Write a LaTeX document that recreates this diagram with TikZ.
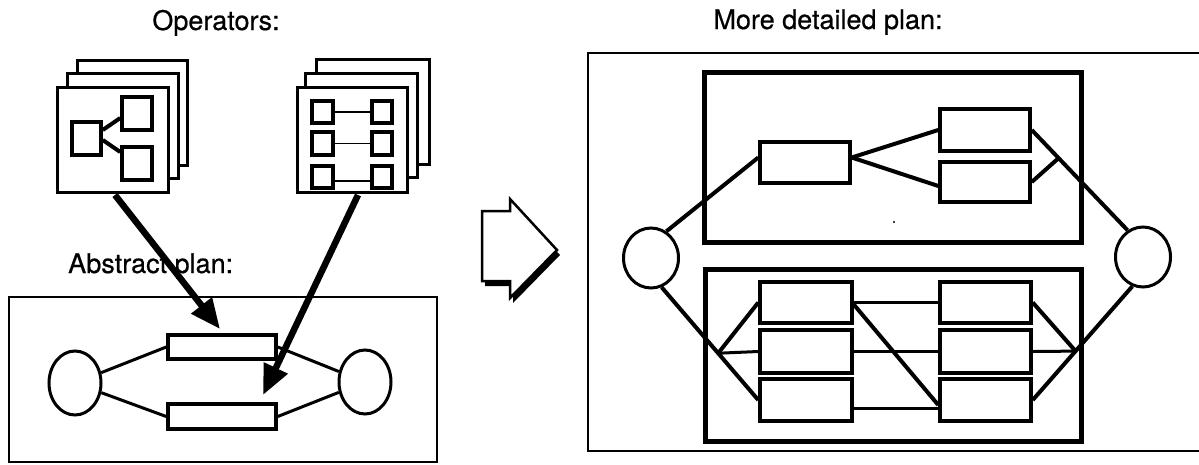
\documentclass[tikz,border=0pt]{standalone}
\usepackage{fontspec}
\setmainfont{TeX Gyre Heros}[FakeBold=0.6]
\usetikzlibrary{shapes.geometric,arrows.meta,calc}
\begin{document}
\begin{tikzpicture}[x=1pt,y=-1pt,
  card/.style={draw,fill=white,line width=3pt,inner sep=0pt},
  sq/.style={draw,fill=white,line width=3.5pt,inner sep=0pt},
  bx/.style={draw,line width=3.5pt,inner sep=0pt},
  dbx/.style={draw,line width=3.5pt,inner sep=0pt},
  frame/.style={draw,line width=5pt,inner sep=0pt},
  oval/.style={draw,ellipse,line width=3pt,inner sep=0pt},
  lnk/.style={line width=3pt},
  dlnk/.style={line width=4pt},
  thin/.style={line width=1.5pt},
  bigarr/.style={line width=6.5pt,-{Triangle[length=30pt,width=25pt]}},
  lbl/.style={font=\fontsize{27}{32}\selectfont,inner sep=0pt,anchor=base}
]
\useasboundingbox (0,0) rectangle (1199,464);

% ---------- titles ----------
\node[lbl] (t1) at (216,30) {Operators:};
\node[lbl] (t3) at (828,29) {More detailed plan:};
\node[lbl,anchor=base west] (t2) at (68,273) {Abstract plan:};

% ---------- left operator stack ----------
\node[card,minimum width=110pt,minimum height=105pt] (c13) at (132,112.5) {};
\node[card,minimum width=111pt,minimum height=105pt] (c12) at (122.5,125.5) {};
\node[card,minimum width=111pt,minimum height=105pt] (c11) at (112.5,139.5) {};
\node[sq,minimum width=29pt,minimum height=33pt] (ls) at (86.5,138.5) {};
\node[sq,minimum width=30pt,minimum height=33pt] (ts) at (137,113.5) {};
\node[sq,minimum width=30pt,minimum height=33pt] (bs) at (137,163.5) {};
\draw[dlnk] ([yshift=8.5pt]ls.east) -- ([yshift=-4.5pt]ts.west);
\draw[dlnk] ([yshift=-1.5pt]ls.east) -- ([yshift=11.5pt]bs.west);

% ---------- right operator stack ----------
\node[card,minimum width=113pt,minimum height=105pt] (c23) at (372.5,111.5) {};
\node[card,minimum width=112pt,minimum height=104pt] (c22) at (361,125) {};
\node[card,minimum width=110pt,minimum height=105pt] (c21) at (352,139.5) {};
\node[sq,minimum width=21pt,minimum height=22pt] (q1l) at (322.5,112) {};
\node[sq,minimum width=20pt,minimum height=22pt] (q1r) at (382,112) {};
\node[sq,minimum width=21pt,minimum height=23pt] (q2l) at (322.5,143.5) {};
\node[sq,minimum width=20pt,minimum height=23pt] (q2r) at (382,143.5) {};
\node[sq,minimum width=21pt,minimum height=22pt] (q3l) at (322.5,177) {};
\node[sq,minimum width=20pt,minimum height=22pt] (q3r) at (382,177) {};
\draw[thin] (q1l.east) -- (q1r.west);
\draw[thin] (q2l.east) -- (q2r.west);
\draw[line width=2.5pt] ([yshift=-4pt]q3l.east) -- ([yshift=-4pt]q3r.west);

% ---------- abstract plan ----------
\node[draw,line width=2.5pt,inner sep=0pt,minimum width=428pt,minimum height=165pt] (ab) at (223,379.5) {};
\node[oval,minimum width=52pt,minimum height=64pt] (al) at (75,383) {};
\node[oval,minimum width=52pt,minimum height=64pt] (ar) at (365,382) {};
\node[bx,minimum width=108pt,minimum height=24pt] (ra) at (222,347) {};
\node[bx,minimum width=108pt,minimum height=25pt] (rb) at (222,416.5) {};
\draw[lnk] (al) -- (ra.west);
\draw[lnk] (al) -- (rb.west);
\draw[lnk] (ra.east) -- (ar);
\draw[lnk] (rb.east) -- (ar);

% ---------- arrows from operators ----------
\coordinate (a1s) at (115,195);
\coordinate (a1e) at (220,329);
\coordinate (a2s) at (358,195);
\coordinate (a2e) at (263,395);
\draw[bigarr] (a1s) -- (a1e);
\draw[bigarr] (a2s) -- (a2e);

% ---------- hollow transformation arrow ----------
\fill[black,shift={(3,5)}] (482,211) -- (510,211) -- (510,199) -- (557,250) -- (510,298) -- (510,281) -- (482,281) -- cycle;
\draw[line width=2.5pt,fill=white,line join=miter] (482,211) -- (510,211) -- (510,199) -- (557,250) -- (510,298) -- (510,281) -- (482,281) -- cycle;

% ---------- detailed plan ----------
\draw[line width=2.5pt] (1199,53) -- (588,53) -- (588,451) -- (1199,451);
\node[frame,minimum width=377pt,minimum height=170pt] (top) at (892.5,157) {};
\node[frame,minimum width=376pt,minimum height=172pt] (bot) at (893,355) {};
\node[oval,minimum width=55pt,minimum height=60pt] (lc) at (651,258) {};
\node[oval,minimum width=55pt,minimum height=60pt] (rc) at (1143,257) {};

\node[dbx,minimum width=90pt,minimum height=41pt] (A) at (805,162.5) {};
\node[dbx,minimum width=90pt,minimum height=42pt] (B) at (985,130) {};
\node[dbx,minimum width=90pt,minimum height=40pt] (C) at (985,182) {};
\draw[dlnk] (lc.60) -- ([yshift=5pt]A.west);
\draw[dlnk] ([yshift=5pt]A.east) -- (B.west);
\draw[dlnk] ([yshift=5pt]A.east) -- ([yshift=-4pt]C.west);
\draw[dlnk] (B.east) -- (rc.120);
\coordinate (R) at ($(B.east)!0.28!(rc.120)$);
\draw[dlnk] (C.east) -- (R);

\node[dbx,minimum width=92pt,minimum height=41pt] (TL) at (806,302.5) {};
\node[dbx,minimum width=92pt,minimum height=43pt] (ML) at (806,351.5) {};
\node[dbx,minimum width=92pt,minimum height=42pt] (BL) at (806,400) {};
\node[dbx,minimum width=91pt,minimum height=41pt] (TR) at (985.5,302.5) {};
\node[dbx,minimum width=91pt,minimum height=43pt] (MR) at (985.5,351.5) {};
\node[dbx,minimum width=91pt,minimum height=42pt] (BR) at (985.5,400) {};

\draw[dlnk] (lc.-70) -- (BL.west);
\coordinate (P) at ($(lc.-70)!0.585!(BL.west)$);
\draw[dlnk] (P) -- (TL.west);
\draw[lnk] (P) -- (ML.west);
\draw[lnk] (TL.east) -- (TR.west);
\draw[dlnk] ([yshift=-2pt]TL.east) -- ([yshift=-5pt]BR.west);
\draw[lnk] (ML.east) -- (MR.west);
\draw[lnk] ([yshift=-8pt]BL.east) -- ([yshift=-8pt]BR.west);
\draw[dlnk] (BR.east) -- (rc.-110);
\coordinate (Q) at ($(BR.east)!0.43!(rc.-110)$);
\draw[dlnk] (TR.east) -- (Q);
\draw[lnk] (MR.east) -- (Q);

\fill (894,222) circle (1.2);
\end{tikzpicture}
\end{document}
